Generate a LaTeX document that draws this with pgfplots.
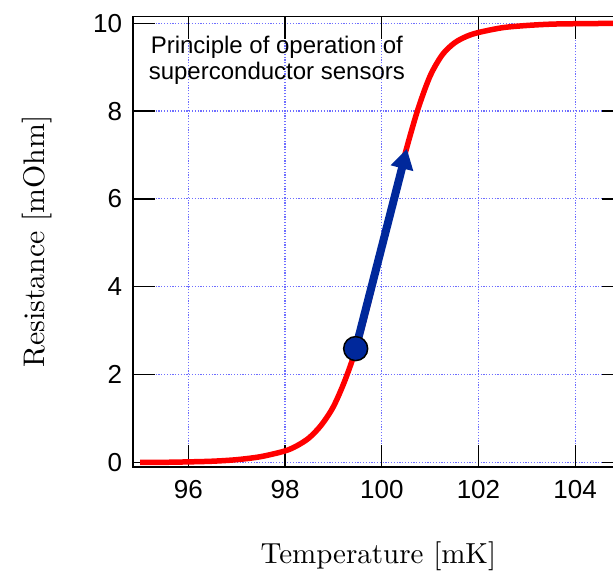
\documentclass[border=0pt]{standalone}
\usepackage{pgfplots}
\pgfplotsset{compat=1.18}
\usepackage{fontspec}
\newfontfamily\arial{Liberation Sans}
\newfontfamily\lmten{lmroman10-regular.otf}
\usetikzlibrary{arrows.meta}
\definecolor{gridblue}{RGB}{110,110,255}
\definecolor{arrowblue}{RGB}{0,40,155}
\begin{document}
\begin{tikzpicture}
\useasboundingbox (-133.3pt,-104.3pt) rectangle (479.7pt,466.7pt);
\clip (-133.3pt,-104.3pt) rectangle (479.7pt,466.7pt);
\begin{axis}[
  at={(0pt,0pt)}, anchor=south west,
  scale only axis,
  width=490.2pt, height=450pt,
  xmin=94.86, xmax=105, ymin=-0.1, ymax=10.15,
  xtick={96,98,100,102,104},
  ytick={0,2,4,6,8,10},
  tick align=inside,
  major tick length=22pt,
  every tick/.style={black, line width=1.3pt},
  axis line style={black, line width=1.6pt},
  grid=major,
  major grid style={gridblue, line width=1.2pt, dash pattern=on 1.2pt off 1.6pt},
  /pgf/number format/assume math mode=true,
  every tick label/.append style={font=\arial\fontsize{26}{26}\selectfont, inner sep=0pt},
  xticklabel shift=13pt,
  yticklabel shift=11pt,
  every axis x label/.style={at={(rel axis cs:0.5,0)}, yshift=-90pt, anchor=center},
  every axis y label/.style={at={(rel axis cs:0,0.5)}, xshift=-96pt, rotate=90, anchor=center},
  xlabel={\lmten\fontsize{29}{29}\selectfont Temperature [mK]},
  ylabel={\lmten\fontsize{29.8}{29.8}\selectfont Resistance [mOhm]},
  clip=false,
]
\addplot[red, line width=5.5pt, smooth] coordinates {
(95,0) (95.5,0) (96,0.01) (96.5,0.025) (97,0.06) (97.5,0.13) (98,0.26)
(98.25,0.38) (98.5,0.56) (98.75,0.85) (99,1.27) (99.25,1.9) (99.5,2.7)
(99.75,3.75) (100,4.9) (100.25,6.02) (100.5,7.1) (100.75,8.05) (101,8.8)
(101.25,9.28) (101.5,9.55) (101.75,9.7) (102,9.79) (102.5,9.9) (103,9.95)
(103.5,9.98) (104,9.99) (105,10)
};
\addplot[arrowblue, line width=8pt, -{Triangle[length=20pt,width=22pt]}] coordinates {(99.46,2.59) (100.52,7.14)};
\addplot[only marks, mark=*, mark size=12pt, mark options={fill=arrowblue, draw=black, line width=1.5pt}] coordinates {(99.46,2.59)};
\node[align=center, font=\arial\fontsize{24}{26.5}\selectfont, inner sep=0pt] at (axis cs:97.83,9.16) {Principle of operation of\\superconductor sensors};
\end{axis}
\end{tikzpicture}
\end{document}
